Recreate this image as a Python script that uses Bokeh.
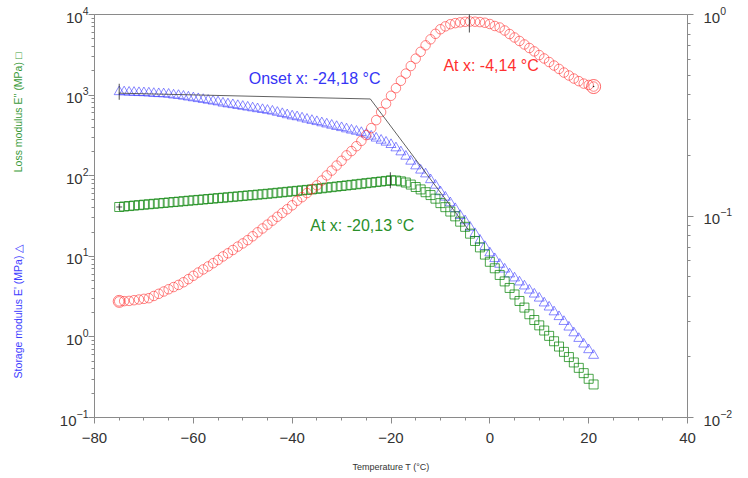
import numpy as np
from bokeh.plotting import figure
from bokeh.layouts import row
from bokeh.models import Range1d, LogAxis, LogScale, FixedTicker, LogTickFormatter, Label, ColumnDataSource
from bokeh.embed import file_html
from bokeh.resources import INLINE

# ---------------- data ----------------
temperature_c = [-75, -74, -73, -72, -71, -70, -69, -68, -67, -66, -65, -64, -63, -62, -61,
                 -60, -59, -58, -57, -56, -55, -54, -53, -52, -51, -50, -49, -48, -47, -46,
                 -45, -44, -43, -42, -41, -40, -39, -38, -37, -36, -35, -34, -33, -32, -31,
                 -30, -29, -28, -27, -26, -25, -24, -23, -22, -21, -20, -19, -18, -17, -16,
                 -15, -14, -13, -12, -11, -10, -9, -8, -7, -6, -5, -4, -3, -2, -1,
                 0, 1, 2, 3, 4, 5, 6, 7, 8, 9, 10, 11, 12, 13, 14, 15, 16, 17, 18, 19, 20, 21]

storage_modulus_mpa = [1100, 1095, 1084, 1080, 1072, 1068, 1060, 1047, 1040, 1035, 1023, 1000, 989, 966, 944,
                       923, 902, 881, 861, 841, 822, 794, 776, 759, 741, 724, 708, 692, 676, 661,
                       646, 631, 610, 589, 569, 550, 537, 519, 501, 484, 468, 452, 437, 422, 407,
                       394, 380, 367, 355, 343, 327, 309, 292, 275, 260, 243, 221, 197, 174, 151,
                       132, 117, 105, 89, 76, 63, 54, 46, 39, 32, 27.5, 22.9, 19.1, 15.8, 13.2,
                       11.0, 9.33, 7.94, 6.92, 6.03, 5.37, 4.79, 4.27, 3.80, 3.39, 3.02, 2.63, 2.34, 2.04,
                       1.78, 1.55, 1.32, 1.12, 0.955, 0.813, 0.692, 0.589]

loss_modulus_mpa = [40.9, 41.5, 42.0, 42.6, 43.1, 43.7, 44.2, 44.8, 45.3, 45.9, 46.5, 47.1, 47.6, 48.3, 48.9,
                    49.5, 50.1, 50.7, 51.4, 52.0, 52.7, 53.3, 54.0, 54.7, 55.3, 56.1, 56.8, 57.4, 58.2, 58.9,
                    59.7, 60.5, 61.4, 62.2, 63.1, 64.0, 64.9, 65.8, 66.7, 67.6, 68.7, 69.8, 71.0, 72.1, 73.3,
                    74.5, 75.7, 76.9, 78.2, 79.4, 80.8, 82.0, 83.4, 84.7, 86.1, 87.7, 87.1, 85.1, 82.2, 77.6,
                    72.4, 67.6, 62.4, 57.5, 51.9, 45.7, 40.7, 35.9, 31.3, 26.9, 23.2, 19.1, 15.5, 12.9, 10.5,
                    8.55, 7.10, 5.87, 4.88, 4.05, 3.36, 2.79, 2.31, 1.91, 1.62, 1.39, 1.20, 1.03, 0.883,
                    0.759, 0.652, 0.562, 0.482, 0.413, 0.355, 0.302, 0.257]

tan_delta = [0.0377, 0.0378, 0.0379, 0.0382, 0.0385, 0.0388, 0.0391, 0.0401, 0.0411, 0.0422, 0.0433, 0.0444, 0.0455, 0.0469, 0.0486,
             0.0505, 0.0524, 0.0543, 0.0562, 0.0583, 0.0605, 0.0630, 0.0653, 0.0678, 0.0705, 0.0731, 0.0759, 0.0793, 0.0830, 0.0867,
             0.0906, 0.0948, 0.0991, 0.1035, 0.108, 0.113, 0.119, 0.124, 0.130, 0.136, 0.142, 0.150, 0.159, 0.168, 0.178,
             0.188, 0.200, 0.210, 0.222, 0.236, 0.252, 0.273, 0.299, 0.328, 0.361, 0.395, 0.431, 0.469, 0.509, 0.555,
             0.604, 0.653, 0.703, 0.753, 0.802, 0.845, 0.873, 0.895, 0.906, 0.914, 0.920, 0.923, 0.921, 0.917, 0.910,
             0.897, 0.877, 0.862, 0.833, 0.800, 0.769, 0.739, 0.710, 0.682, 0.656, 0.629, 0.605, 0.581, 0.558,
             0.537, 0.515, 0.498, 0.481, 0.467, 0.454, 0.447, 0.439]

# onset tangent construction (baseline tangent + inflection tangent)
onset_tangent_t = [-75.1, -24.18, -4.3]
onset_tangent_e = [1057, 895, 21.2]
onset_t = -24.18
loss_peak_t = -20.13
tan_peak_t = -4.14

x_major_ticks = [-80, -60, -40, -20, 0, 20, 40]
x_minor_ticks = [-75, -70, -65, -55, -50, -45, -35, -30, -25, -15, -10, -5, 5, 10, 15, 25, 30, 35]
left_major_ticks = [0.1, 1, 10, 100, 1000, 10000]
right_major_ticks = [0.01, 0.1, 1]

title_strip_w = 30
tick_font = "Liberation Sans"

# ---------------- main figure ----------------
p = figure(frame_width=593, frame_height=403,
           x_range=Range1d(-80, 40), y_range=Range1d(0.1, 10000),
           y_axis_type="log", output_backend="svg", toolbar_location=None,
           min_border_left=94 - title_strip_w, min_border_top=14,
           min_border_right=45, min_border_bottom=50)
p.extra_y_ranges = {"tand": Range1d(0.01, 1)}
p.extra_y_scales = {"tand": LogScale()}
p.xgrid.visible = False
p.ygrid.visible = False
p.outline_line_color = "#8a8a8a"
p.background_fill_color = "white"
p.border_fill_color = "white"

def minors(majors):
    out = []
    for m in majors[:-1]:
        out += [k * m for k in range(2, 10)]
    return out

axis_grey = "#8a8a8a"

def style_axis(ax):
    ax.axis_line_color = axis_grey
    ax.major_tick_line_color = axis_grey
    ax.minor_tick_line_color = axis_grey
    ax.major_tick_out = 6
    ax.major_tick_in = 0
    ax.minor_tick_out = 3
    ax.minor_tick_in = 0
    ax.major_label_text_font = tick_font
    ax.major_label_text_font_size = "15px"
    ax.major_label_text_color = "#333333"

xa = p.xaxis[0]
xa.ticker = FixedTicker(ticks=x_major_ticks, minor_ticks=x_minor_ticks)
style_axis(xa)
xa.major_label_standoff = 9
xa.axis_label = "Temperature T (°C)"
xa.axis_label_text_font = tick_font
xa.axis_label_text_font_size = "9px"
xa.axis_label_text_font_style = "normal"
xa.axis_label_text_color = "#333333"
xa.axis_label_standoff = 16

ya = p.yaxis[0]
ya.ticker = FixedTicker(ticks=left_major_ticks, minor_ticks=minors(left_major_ticks))
ya.formatter = LogTickFormatter()
style_axis(ya)
ya.major_label_standoff = 0

ra = LogAxis(y_range_name="tand")
ra.ticker = FixedTicker(ticks=right_major_ticks, minor_ticks=minors(right_major_ticks))
ra.formatter = LogTickFormatter()
style_axis(ra)
ra.major_label_standoff = 10
p.add_layout(ra, "right")

src = ColumnDataSource(dict(t=temperature_c, e1=storage_modulus_mpa, e2=loss_modulus_mpa, td=tan_delta))

p.scatter("t", "e1", source=src, marker="triangle", size=10, fill_color=None,
          line_color="#2a2aff", line_alpha=0.55, line_width=1)
p.scatter("t", "e2", source=src, marker="square", size=9, fill_color=None,
          line_color="#008000", line_alpha=0.7, line_width=1)
p.scatter("t", "td", source=src, marker="circle", size=9.5, fill_color=None,
          line_color="#ff2020", line_alpha=0.55, line_width=1, y_range_name="tand")
# enlarged end points of the tan delta trace
p.scatter([temperature_c[-1]], [tan_delta[-1]], marker="circle", size=14, fill_color=None,
          line_color="#ff2020", line_alpha=0.7, y_range_name="tand")
p.scatter([temperature_c[0]], [tan_delta[0]], marker="circle", size=12, fill_color=None,
          line_color="#ff2020", line_alpha=0.6, y_range_name="tand")

# onset tangent lines
p.line(onset_tangent_t, onset_tangent_e, line_color="#505050", line_width=0.9)

# cursor cross-hairs
i_loss = int(np.argmax(loss_modulus_mpa))
i_tan = int(np.argmax(tan_delta))
p.scatter([temperature_c[0], loss_peak_t], [storage_modulus_mpa[0], loss_modulus_mpa[i_loss]],
          marker="dash", angle=np.pi / 2, size=16, line_color="#222222", line_width=0.8)
p.scatter([temperature_c[0]], [loss_modulus_mpa[0]], marker="cross", size=6,
          line_color="#222222", line_width=0.8)
p.scatter([tan_peak_t], [tan_delta[i_tan]], marker="dash", angle=np.pi / 2, size=22,
          line_color="#222222", line_width=0.8, y_range_name="tand")
p.scatter([temperature_c[-1]], [tan_delta[-1]], marker="dot", size=6,
          line_color="#222222", y_range_name="tand")

# annotations
def fmt(v):
    return ("%.2f" % v).replace(".", ",")

p.add_layout(Label(x=-48.8, y=1600, text="Onset x: %s °C" % fmt(onset_t),
                   text_color="#3535f5", text_font=tick_font, text_font_size="16px",
                   text_baseline="middle"))
p.add_layout(Label(x=-9.4, y=2350, text="At x: %s °C" % fmt(tan_peak_t),
                   text_color="#ff3030", text_font=tick_font, text_font_size="16px",
                   text_baseline="middle"))
p.add_layout(Label(x=-36.35, y=24.4, text="At x: %s °C" % fmt(loss_peak_t),
                   text_color="#2a8f2a", text_font=tick_font, text_font_size="16px",
                   text_baseline="middle"))

# ---------------- narrow strip carrying the two stacked left-axis titles ----------------
# its frame is aligned with the main frame by the row layout; the y range spans
# the main frame's top (17 px) to bottom (420 px) in page pixels
t = figure(width=title_strip_w, height=470, x_range=Range1d(0, title_strip_w),
           y_range=Range1d(420, 17), output_backend="svg", toolbar_location=None,
           min_border=0, min_border_left=0, min_border_right=0)
t.axis.visible = False
t.xgrid.visible = False
t.ygrid.visible = False
t.outline_line_color = None
t.background_fill_color = "white"
t.border_fill_color = "white"
t.add_layout(Label(x=17, y=116, text="Loss modulus E'' (MPa) \u25a1", angle=np.pi / 2,
                   text_color="#3a9a3a", text_font=tick_font, text_font_size="10.5px",
                   text_align="center", text_baseline="middle"))
t.add_layout(Label(x=17, y=317, text="Storage modulus E' (MPa) \u25b3", angle=np.pi / 2,
                   text_color="#3d3dff", text_font=tick_font, text_font_size="10.5px",
                   text_align="center", text_baseline="middle"))

layout = row(t, p, spacing=0)
open("out.html", "w").write(file_html(layout, INLINE))
